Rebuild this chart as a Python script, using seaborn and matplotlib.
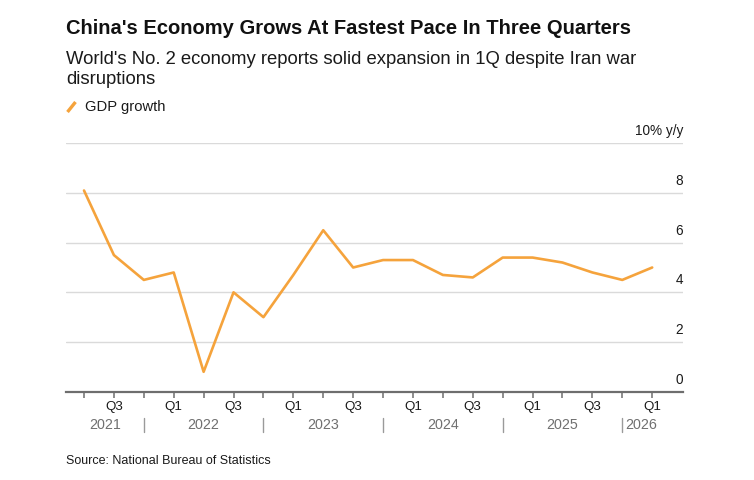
import matplotlib
matplotlib.use("Agg")
import matplotlib.pyplot as plt
import matplotlib.transforms as mtransforms
import seaborn as sns
import pandas as pd

# ---- data ----
quarters = ["Q2 2021", "Q3 2021", "Q4 2021",
            "Q1 2022", "Q2 2022", "Q3 2022", "Q4 2022",
            "Q1 2023", "Q2 2023", "Q3 2023", "Q4 2023",
            "Q1 2024", "Q2 2024", "Q3 2024", "Q4 2024",
            "Q1 2025", "Q2 2025", "Q3 2025", "Q4 2025",
            "Q1 2026"]
gdp_growth = [8.1, 5.5, 4.5, 4.8, 0.8, 4.0, 3.0, 4.7, 6.5, 5.0, 5.3,
              5.3, 4.7, 4.6, 5.4, 5.4, 5.2, 4.8, 4.5, 5.0]
y_ticks = [0, 2, 4, 6, 8, 10]
y_tick_labels = ["0", "2", "4", "6", "8", "10% y/y"]
years = ["2021", "2022", "2023", "2024", "2025", "2026"]

title = "China's Economy Grows At Fastest Pace In Three Quarters"
subtitle = "World's No. 2 economy reports solid expansion in 1Q despite Iran war\ndisruptions"
legend_label = "GDP growth"
source = "Source: National Bureau of Statistics"

ORANGE = "#F5A33C"

df = pd.DataFrame({"quarter": quarters, "gdp": gdp_growth})
df["idx"] = range(len(df))
df["qlabel"] = [q.split()[0] for q in quarters]
df["year"] = [q.split()[1] for q in quarters]

sns.set_theme(style="white")
plt.rcParams["font.family"] = ["Liberation Sans", "DejaVu Sans"]

W, H = 754, 480
fig = plt.figure(figsize=(W / 100, H / 100), dpi=100)

def fx(px):
    return px / W

def fy(py):
    return 1 - py / H

left_px, right_px, top_px, bot_px = 66, 683, 143.3, 391.7
ax = fig.add_axes([fx(left_px), fy(bot_px), fx(right_px) - fx(left_px), fy(top_px) - fy(bot_px)])

sns.lineplot(data=df, x="idx", y="gdp", ax=ax, color=ORANGE, linewidth=1.9,
             legend=False)

n = len(df)
ax.set_xlim(-0.602, 20.03)
ax.set_ylim(0, 10)

# gridlines
ax.set_yticks(y_ticks)
ax.set_yticklabels([])
ax.tick_params(axis="y", length=0)
ax.grid(axis="y", color="#dadada", linewidth=1.0)
ax.grid(axis="x", visible=False)
ax.set_axisbelow(True)

for s in ["top", "left", "right"]:
    ax.spines[s].set_visible(False)
ax.spines["bottom"].set_color("#6e6e6e")
ax.spines["bottom"].set_linewidth(1.6)
ax.spines["bottom"].set_zorder(3)

# y tick labels inside on the right, above gridlines
ytrans = mtransforms.blended_transform_factory(ax.transAxes, ax.transData)
for v, lab in zip(y_ticks, y_tick_labels):
    t = ax.text(1.0, v, lab, transform=ytrans, ha="right", va="bottom",
                fontsize=9.8, color="#1a1a1a")
    t.set_transform(ytrans + mtransforms.ScaledTranslation(0, 3.5 / 72, fig.dpi_scale_trans))

# x ticks: every quarter, labels on Q1/Q3
ax.set_xticks(df["idx"].tolist())
ax.set_xticklabels([q if q in ("Q1", "Q3") else "" for q in df["qlabel"]])
ax.tick_params(axis="x", length=4.5, width=1.1, color="#6e6e6e", pad=2.2,
               labelsize=9.6, labelcolor="#1a1a1a", bottom=True, direction="out")
ax.set_xlabel("")
ax.set_ylabel("")

# year labels and separators
xtrans = mtransforms.blended_transform_factory(ax.transData, fig.transFigure)
sep_idx = [i for i in range(n) if df["qlabel"][i] == "Q4"]
for i in sep_idx:
    ax.plot([i, i], [fy(418), fy(432)], transform=xtrans, color="#9a9a9a",
            linewidth=1.0, clip_on=False)
bounds = [ax.get_xlim()[0]] + sep_idx
for k, yr in enumerate(years):
    if k < len(years) - 1:
        c = (bounds[k] + bounds[k + 1]) / 2
        ax.text(c, fy(425), yr, transform=xtrans, ha="center", va="center",
                fontsize=10.3, color="#707070")
    else:
        ax.text(bounds[k] + 0.1, fy(425), yr, transform=xtrans, ha="left", va="center",
                fontsize=10.3, color="#707070")

# titles
fig.text(fx(66), fy(28.5), title, fontsize=14.5, fontweight="bold", color="#111111",
         ha="left", va="center")
fig.text(fx(66), fy(69.5), subtitle, fontsize=13.3, color="#1a1a1a", ha="left",
         va="center", linespacing=1.28)

# legend
fig.add_artist(plt.Line2D([fx(67.5), fx(75.5)], [fy(112), fy(102)], color=ORANGE,
                          linewidth=2.4, solid_capstyle="butt"))
fig.text(fx(85), fy(107.5), legend_label, fontsize=10.6, color="#1a1a1a", ha="left",
         va="center")

fig.text(fx(66), fy(461), source, fontsize=9, color="#1a1a1a", ha="left", va="center")

fig.savefig("out.png", dpi=100)
